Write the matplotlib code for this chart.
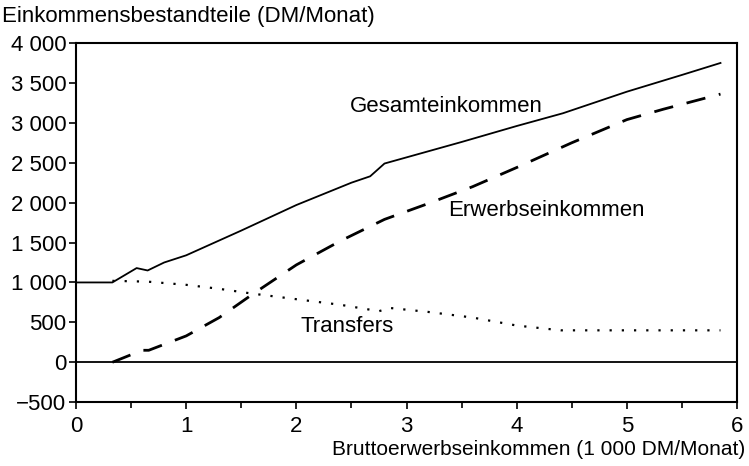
import matplotlib.pyplot as plt
from matplotlib.ticker import FuncFormatter, MultipleLocator

plt.rcParams['font.family'] = ['Liberation Sans', 'DejaVu Sans']

# Gesamteinkommen
x_ges = [0, 0.33, 0.55, 0.65, 0.8, 1.0, 1.5, 2.0, 2.5, 2.67, 2.8, 3.5, 4.0, 4.42, 5.0, 5.5, 5.85]
y_ges = [1000, 1000, 1180, 1150, 1250, 1340, 1650, 1970, 2250, 2330, 2490, 2760, 2960, 3120, 3390, 3600, 3750]

# Erwerbseinkommen
x_erw = [0.33, 0.6, 0.66, 1.0, 1.3, 1.6, 2.0, 2.4, 2.8, 3.2, 3.6, 4.0, 4.5, 5.0, 5.33, 5.85]
y_erw = [0, 150, 150, 330, 560, 850, 1220, 1520, 1790, 1990, 2200, 2440, 2750, 3040, 3170, 3360]

# Transfers
x_tr = [0.33, 0.65, 1.0, 1.3, 1.6, 2.0, 2.4, 2.75, 2.85, 3.2, 3.6, 4.0, 4.4, 5.0, 5.85]
y_tr = [1020, 1010, 970, 920, 860, 790, 720, 640, 680, 630, 560, 460, 400, 400, 400]

fig = plt.figure(figsize=(7.49, 4.66), dpi=100)
ax = fig.add_axes([0.1015, 0.137, 0.8825, 0.7707])

ax.plot(x_ges, y_ges, color='black', lw=1.3)
ax.plot(x_erw, y_erw, color='black', lw=2.0, dashes=(7, 5))
ax.plot(x_tr, y_tr, color='black', lw=1.6, dashes=(1, 4.5))
ax.axhline(0, color='black', lw=1.3)

ax.set_xlim(0, 6)
ax.set_ylim(-500, 4000)
ax.xaxis.set_major_locator(MultipleLocator(1))
ax.xaxis.set_minor_locator(MultipleLocator(0.5))
ax.yaxis.set_major_locator(MultipleLocator(500))
ax.yaxis.set_major_formatter(FuncFormatter(
    lambda v, p: ('\u2212' if v < 0 else '') + f'{abs(int(v)):,}'.replace(',', ' ')))

ax.tick_params(which='both', direction='out', labelsize=16, width=1.2)
ax.tick_params(which='major', length=5)
ax.tick_params(which='minor', length=4)
ax.tick_params(axis='x', pad=5)
ax.tick_params(axis='y', pad=2)
for s in ax.spines.values():
    s.set_linewidth(1.5)

ax.text(3.36, 3210, 'Gesamteinkommen', fontsize=16, ha='center', va='center')
ax.text(4.27, 1900, 'Erwerbseinkommen', fontsize=16, ha='center', va='center')
ax.text(2.46, 450, 'Transfers', fontsize=16, ha='center', va='center')

fig.text(0.003, 0.964, 'Einkommensbestandteile (DM/Monat)', fontsize=16, ha='left', va='center')
fig.text(0.995, 0.035, 'Bruttoerwerbseinkommen (1 000 DM/Monat)', fontsize=15, ha='right', va='center')

fig.savefig('out.png', dpi=100)
